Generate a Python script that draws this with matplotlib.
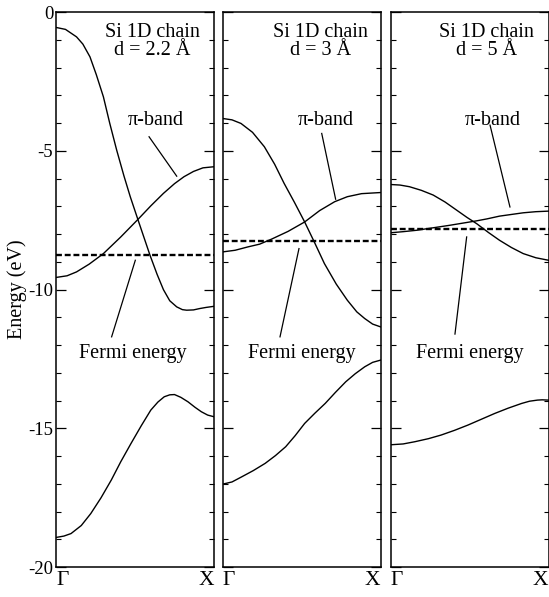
import matplotlib
matplotlib.use("Agg")
import matplotlib.pyplot as plt
from matplotlib.ticker import MultipleLocator

plt.rcParams['font.family'] = ['Liberation Serif', 'DejaVu Serif']
plt.rcParams['axes.unicode_minus'] = False

# band data: k from Gamma (0) to X (1), energies in eV
titles = ["Si 1D chain\nd = 2.2 Å", "Si 1D chain\nd = 3 Å", "Si 1D chain\nd = 5 Å"]
fermi = [-8.76, -8.24, -7.82]

k_up1 = [0, 0.06, 0.13, 0.17, 0.215, 0.255, 0.30, 0.34, 0.384, 0.43, 0.47, 0.52, 0.595, 0.64, 0.68, 0.72, 0.764, 0.80, 0.827, 0.87, 0.91, 0.95, 1.0]
e_up1 = [-0.55, -0.62, -0.89, -1.15, -1.61, -2.25, -3.05, -4.0, -4.97, -5.9, -6.65, -7.5, -8.76, -9.45, -10.0, -10.4, -10.62, -10.72, -10.74, -10.73, -10.68, -10.64, -10.6]
k_pi1 = [0, 0.07, 0.13, 0.21, 0.30, 0.41, 0.52, 0.60, 0.68, 0.75, 0.81, 0.87, 0.93, 1.0]
e_pi1 = [-9.56, -9.50, -9.36, -9.08, -8.70, -8.10, -7.46, -6.98, -6.53, -6.18, -5.93, -5.74, -5.61, -5.57]
k_lo1 = [0, 0.05, 0.095, 0.16, 0.22, 0.285, 0.35, 0.41, 0.475, 0.54, 0.60, 0.645, 0.685, 0.72, 0.75, 0.79, 0.835, 0.88, 0.92, 0.96, 1.0]
e_lo1 = [-18.93, -18.88, -18.79, -18.5, -18.07, -17.5, -16.86, -16.2, -15.54, -14.9, -14.34, -14.05, -13.86, -13.79, -13.78, -13.88, -14.04, -14.24, -14.40, -14.52, -14.58]

k_up2 = [0, 0.06, 0.117, 0.19, 0.265, 0.33, 0.39, 0.455, 0.52, 0.585, 0.645, 0.72, 0.79, 0.85, 0.90, 0.95, 1.0]
e_up2 = [-3.83, -3.88, -4.01, -4.33, -4.85, -5.48, -6.17, -6.85, -7.56, -8.33, -9.06, -9.8, -10.38, -10.8, -11.04, -11.24, -11.34]
k_pi2 = [0, 0.08, 0.16, 0.235, 0.31, 0.415, 0.52, 0.615, 0.71, 0.79, 0.88, 1.0]
e_pi2 = [-8.64, -8.58, -8.46, -8.36, -8.18, -7.90, -7.56, -7.15, -6.83, -6.65, -6.54, -6.50]
k_lo2 = [0, 0.06, 0.12, 0.195, 0.27, 0.335, 0.40, 0.46, 0.52, 0.585, 0.65, 0.715, 0.78, 0.84, 0.90, 0.95, 1.0]
e_lo2 = [-17.01, -16.93, -16.75, -16.52, -16.26, -15.98, -15.66, -15.26, -14.82, -14.45, -14.10, -13.7, -13.32, -13.03, -12.78, -12.62, -12.54]

k_up3 = [0, 0.06, 0.12, 0.195, 0.27, 0.345, 0.42, 0.485, 0.545, 0.62, 0.69, 0.765, 0.84, 0.92, 1.0]
e_up3 = [-6.21, -6.23, -6.29, -6.42, -6.59, -6.84, -7.14, -7.4, -7.62, -7.94, -8.22, -8.48, -8.70, -8.85, -8.94]
k_pi3 = [0, 0.08, 0.165, 0.27, 0.375, 0.46, 0.545, 0.61, 0.69, 0.765, 0.84, 0.92, 1.0]
e_pi3 = [-7.95, -7.91, -7.86, -7.77, -7.68, -7.60, -7.52, -7.45, -7.35, -7.29, -7.23, -7.19, -7.17]
k_lo3 = [0, 0.08, 0.154, 0.24, 0.32, 0.405, 0.49, 0.575, 0.66, 0.745, 0.83, 0.88, 0.93, 0.96, 1.0]
e_lo3 = [-15.59, -15.56, -15.48, -15.37, -15.24, -15.07, -14.88, -14.67, -14.46, -14.27, -14.10, -14.02, -13.98, -13.97, -13.98]

bands = [
    [(k_up1, e_up1), (k_pi1, e_pi1), (k_lo1, e_lo1)],
    [(k_up2, e_up2), (k_pi2, e_pi2), (k_lo2, e_lo2)],
    [(k_up3, e_up3), (k_pi3, e_pi3), (k_lo3, e_lo3)],
]

# label positions and pointer lines (k, E)
pi_text = [(0.632, -3.89), (0.654, -3.89), (0.646, -3.89)]
pi_line = [((0.589, -4.49), (0.764, -5.91)), ((0.628, -4.37), (0.716, -6.74)), ((0.63, -4.07), (0.756, -7.02))]
ef_text = [(0.484, -12.3), (0.50, -12.3), (0.503, -12.3)]
ef_line = [((0.502, -8.94), (0.352, -11.7)), ((0.484, -8.52), (0.364, -11.7)), ((0.482, -8.1), (0.408, -11.6))]
title_k = [0.61, 0.62, 0.61]

fig = plt.figure(figsize=(5.49, 5.97), dpi=100)
lefts = [56/549, 222.5/549, 390.5/549]
for i in range(3):
    ax = fig.add_axes([lefts[i], 0.050, 158/549, 0.9296])
    for k, e in bands[i]:
        ax.plot(k, e, color='black', lw=1.0)
    ax.axhline(fermi[i], color='black', lw=1.7, dashes=(2.5, 1.2))
    ax.text(title_k[i], -1.05, titles[i], ha='center', va='center', fontsize=14.5, linespacing=0.95)
    ax.text(pi_text[i][0], pi_text[i][1], "π-band", ha='center', va='center', fontsize=14.5)
    ax.plot([pi_line[i][0][0], pi_line[i][1][0]], [pi_line[i][0][1], pi_line[i][1][1]], color='black', lw=0.9)
    ax.text(ef_text[i][0], ef_text[i][1], "Fermi energy", ha='center', va='center', fontsize=14.5)
    ax.plot([ef_line[i][0][0], ef_line[i][1][0]], [ef_line[i][0][1], ef_line[i][1][1]], color='black', lw=0.9)

    ax.set_xlim(0, 1)
    ax.set_ylim(-20, 0)
    ax.yaxis.set_major_locator(MultipleLocator(5))
    ax.yaxis.set_minor_locator(MultipleLocator(1))
    ax.tick_params(axis='y', which='major', direction='in', left=True, right=True, length=7, width=0.9, labelsize=13.5, pad=2)
    ax.tick_params(axis='y', which='minor', direction='in', left=True, right=True, length=3.5, width=0.8)
    ax.set_xticks([0, 1])
    ax.set_xticklabels(["Γ", "X"], fontsize=15.5)
    ax.get_xticklabels()[0].set_ha('left')
    ax.get_xticklabels()[1].set_ha('right')
    ax.tick_params(axis='x', length=0, pad=3)
    for s in ax.spines.values():
        s.set_linewidth(1.1)
    if i == 0:
        ax.set_ylabel("Energy (eV)", fontsize=14.5, labelpad=1)
    else:
        ax.set_yticklabels([])

fig.savefig("out.png", dpi=100)
